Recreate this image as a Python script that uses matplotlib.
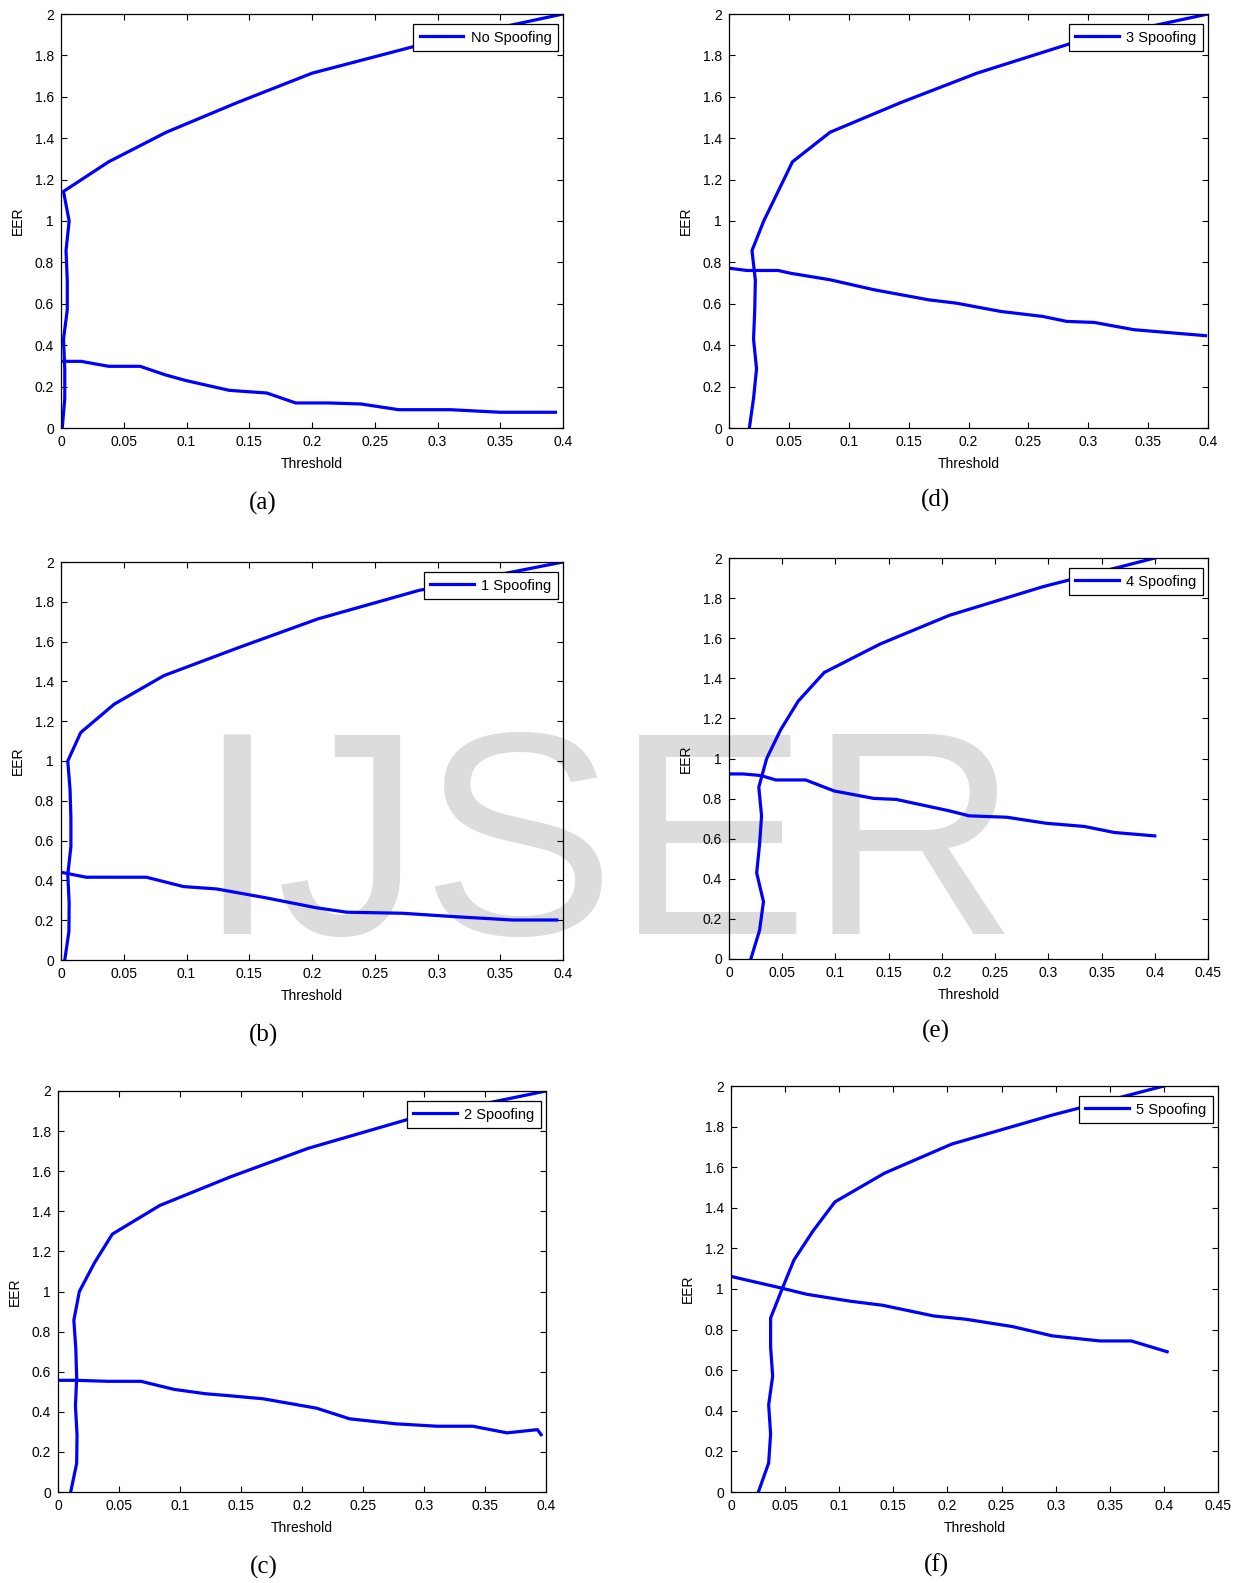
import matplotlib
matplotlib.use("Agg")
import matplotlib.pyplot as plt
from matplotlib.ticker import FuncFormatter

plt.rcParams['font.family'] = ['Liberation Sans', 'DejaVu Sans']

# EER levels shared by the rising curve of every panel
eer_levels = [0, 0.143, 0.286, 0.429, 0.571, 0.714, 0.857, 1.0,
              1.143, 1.286, 1.429, 1.571, 1.714, 1.857, 2.0]

# threshold of the rising curve, one value per EER level
rise_none = [0.001, 0.003, 0.003, 0.002, 0.005, 0.005, 0.004, 0.0065,
             0.002, 0.038, 0.084, 0.14, 0.20, 0.29, 0.4]
rise_1 = [0.003, 0.0063, 0.0065, 0.0054, 0.0079, 0.0079, 0.0072, 0.0054,
          0.0157, 0.0425, 0.082, 0.142, 0.2047, 0.285, 0.4]
rise_2 = [0.0104, 0.0153, 0.0156, 0.0143, 0.0153, 0.0146, 0.013, 0.0175,
          0.0299, 0.0445, 0.0834, 0.141, 0.205, 0.286, 0.4]
rise_3 = [0.017, 0.0205, 0.023, 0.0205, 0.0215, 0.022, 0.0192, 0.029,
          0.041, 0.053, 0.0845, 0.143, 0.207, 0.285, 0.4]
rise_4 = [0.0205, 0.0287, 0.0324, 0.026, 0.0287, 0.0306, 0.028, 0.0354,
          0.0485, 0.065, 0.0895, 0.142, 0.207, 0.295, 0.4]
rise_5 = [0.0253, 0.0348, 0.0366, 0.0348, 0.0385, 0.0366, 0.0366, 0.0472,
          0.0582, 0.0758, 0.096, 0.142, 0.204, 0.297, 0.4]

# falling curve: threshold / EER pairs
fall_x_none = [0.0016, 0.016, 0.038, 0.063, 0.083, 0.099, 0.134, 0.164,
               0.187, 0.213, 0.239, 0.269, 0.31, 0.35, 0.394]
fall_y_none = [0.322, 0.322, 0.298, 0.298, 0.257, 0.23, 0.182, 0.169,
               0.121, 0.121, 0.116, 0.0885, 0.0885, 0.076, 0.076]

fall_x_1 = [0, 0.02, 0.068, 0.0976, 0.124, 0.162, 0.203, 0.228,
            0.272, 0.313, 0.36, 0.395]
fall_y_1 = [0.441, 0.416, 0.416, 0.369, 0.357, 0.314, 0.263, 0.24,
            0.235, 0.218, 0.201, 0.201]

fall_x_2 = [0, 0.0153, 0.041, 0.068, 0.095, 0.121, 0.137, 0.168, 0.212,
            0.239, 0.277, 0.311, 0.34, 0.368, 0.393, 0.396]
fall_y_2 = [0.557, 0.557, 0.552, 0.552, 0.512, 0.49, 0.482, 0.465, 0.418,
            0.365, 0.34, 0.328, 0.328, 0.295, 0.311, 0.286]

fall_x_3 = [0, 0.015, 0.041, 0.051, 0.0845, 0.121, 0.167, 0.19, 0.227,
            0.262, 0.282, 0.305, 0.338, 0.398]
fall_y_3 = [0.772, 0.761, 0.761, 0.748, 0.716, 0.668, 0.619, 0.603, 0.563,
            0.539, 0.515, 0.51, 0.475, 0.446]

fall_x_4 = [0.0019, 0.013, 0.03, 0.044, 0.072, 0.0988, 0.136, 0.157, 0.207,
            0.2256, 0.261, 0.298, 0.334, 0.362, 0.4]
fall_y_4 = [0.923, 0.923, 0.915, 0.893, 0.893, 0.838, 0.801, 0.796, 0.739,
            0.714, 0.707, 0.677, 0.661, 0.631, 0.614]

fall_x_5 = [0, 0.0447, 0.07, 0.11, 0.14, 0.1875, 0.217, 0.26, 0.297,
            0.341, 0.37, 0.403]
fall_y_5 = [1.062, 1.007, 0.974, 0.94, 0.92, 0.867, 0.851, 0.815, 0.769,
            0.744, 0.744, 0.691]

labels = ['No Spoofing', '1 Spoofing', '2 Spoofing',
          '3 Spoofing', '4 Spoofing', '5 Spoofing']
letters = ['(a)', '(b)', '(c)', '(d)', '(e)', '(f)']
x_max = [0.4, 0.4, 0.4, 0.4, 0.45, 0.45]

rises = [rise_none, rise_1, rise_2, rise_3, rise_4, rise_5]
falls = [(fall_x_none, fall_y_none), (fall_x_1, fall_y_1), (fall_x_2, fall_y_2),
         (fall_x_3, fall_y_3), (fall_x_4, fall_y_4), (fall_x_5, fall_y_5)]

W, H = 1242, 1583
# axes boxes in pixels: left, top, right, bottom
boxes = [(61, 14, 563, 428), (61, 562, 563, 960), (58, 1091, 546, 1492),
         (729, 14, 1208, 428), (729, 558, 1208, 959), (731, 1086, 1218, 1492)]
letter_pos = [(263, 503), (264, 1035), (264, 1567),
              (936, 500), (936, 1031), (936, 1565)]

fig = plt.figure(figsize=(W / 100, H / 100), dpi=100)

# watermark sits behind the (transparent) axes
fig.text(607 / W, 1 - 934 / H, 'IJSER', fontsize=209, color='#dcdcdc',
         ha='center', va='baseline', zorder=-5)

fmt = FuncFormatter(lambda v, pos: '%g' % round(v, 3))

for i in range(6):
    l, t, r, b = boxes[i]
    ax = fig.add_axes([l / W, 1 - b / H, (r - l) / W, (b - t) / H])
    ax.patch.set_alpha(0)
    ax.plot(rises[i], eer_levels, color='#0000ff', lw=2.3, label=labels[i])
    ax.plot(falls[i][0], falls[i][1], color='#0000ff', lw=2.3)
    ax.set_xlim(0, x_max[i])
    ax.set_ylim(0, 2)
    ax.set_xticks([k * 0.05 for k in range(int(round(x_max[i] / 0.05)) + 1)])
    ax.set_yticks([k * 0.2 for k in range(11)])
    ax.xaxis.set_major_formatter(fmt)
    ax.yaxis.set_major_formatter(fmt)
    ax.tick_params(direction='in', length=4, width=0.8, top=True, right=True,
                   labelsize=10, pad=5)
    for s in ax.spines.values():
        s.set_linewidth(0.9)
    ax.set_xlabel('Threshold', fontsize=10, labelpad=6)
    ax.set_ylabel('EER', fontsize=10, labelpad=7)
    # legend box: ~5px from the right edge, ~10px below the top
    anchor = (1 - 5 / (r - l), 1 - 10 / (b - t))
    leg = ax.legend(loc='upper right', bbox_to_anchor=anchor, borderaxespad=0,
                    fontsize=10.5, fancybox=False, edgecolor='black',
                    framealpha=1, handlelength=3.0, handletextpad=0.5,
                    borderpad=0.45)
    leg.get_frame().set_linewidth(0.9)
    fig.text(letter_pos[i][0] / W, 1 - letter_pos[i][1] / H, letters[i],
             family='Liberation Serif', fontsize=18, ha='center', va='center')

fig.savefig('out.png', dpi=100)
